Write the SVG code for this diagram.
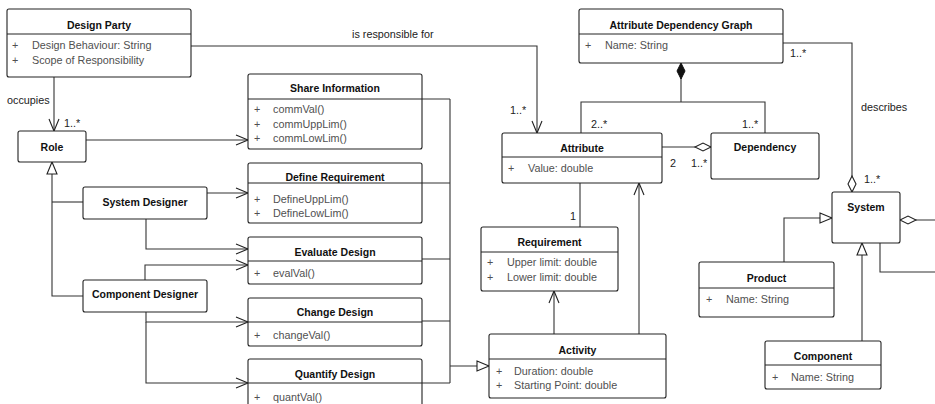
<svg xmlns="http://www.w3.org/2000/svg" width="935" height="404" viewBox="0 0 935 404">
<style>
text{font-family:"Liberation Sans",Arial,sans-serif;font-size:10.8px;fill:#222}
.t{font-weight:bold;font-size:10.5px;text-anchor:middle;fill:#111}
.a{fill:#505050}
.box{fill:#fff;stroke:#222;stroke-width:1.1}
.sep{stroke:#222;stroke-width:1}
.c{fill:none;stroke:#333;stroke-width:1.1}
</style>
<defs>
<marker id="arr" markerUnits="userSpaceOnUse" markerWidth="14" markerHeight="12" refX="12" refY="5" orient="auto" overflow="visible"><path d="M0,0 L12,5 L0,10" fill="none" stroke="#222" stroke-width="1.1"/></marker>
<marker id="tri" markerUnits="userSpaceOnUse" markerWidth="14" markerHeight="12" refX="12" refY="5" orient="auto" overflow="visible"><path d="M0,0 L12,5 L0,10 z" fill="#fff" stroke="#222" stroke-width="1.1"/></marker>
<marker id="dia" markerUnits="userSpaceOnUse" markerWidth="18" markerHeight="10" refX="16" refY="4" orient="auto" overflow="visible"><path d="M0,4 L8,0 L16,4 L8,8 z" fill="#fff" stroke="#222" stroke-width="1.1"/></marker>
<marker id="fdia" markerUnits="userSpaceOnUse" markerWidth="18" markerHeight="10" refX="16" refY="4" orient="auto" overflow="visible"><path d="M0,4 L8,0 L16,4 L8,8 z" fill="#111" stroke="#111" stroke-width="1"/></marker>
</defs>
<rect width="935" height="404" fill="#fff"/>
<g id="connectors">
<path class="c" d="M191,46 H537 V133" marker-end="url(#arr)"/>
<path class="c" d="M54,77 V131" marker-end="url(#arr)"/>
<path class="c" d="M86,140 H248" marker-end="url(#arr)"/>
<path class="c" d="M207,193 H248" marker-end="url(#arr)"/>
<path class="c" d="M146,219 V249 H248" marker-end="url(#arr)"/>
<path class="c" d="M145,280 V265 H248" marker-end="url(#arr)"/>
<path class="c" d="M146,312 V322 H248" marker-end="url(#arr)"/>
<path class="c" d="M146,322 V383 H248" marker-end="url(#arr)"/>
<path class="c" d="M83,202 H52"/>
<path class="c" d="M83,296 H52 V162" marker-end="url(#tri)"/>
<path class="c" d="M422,99 H450 M422,183 H450 M422,259 H450 M422,321 H450 M422,383 H450 M450,99 V383"/>
<path class="c" d="M450,366 H489" marker-end="url(#tri)"/>
<path class="c" d="M681,102 V63" marker-end="url(#fdia)"/>
<path class="c" d="M581,133 V102 H765 V133"/>
<path class="c" d="M662,147 H711" marker-end="url(#dia)"/>
<path class="c" d="M580,183 V227"/>
<path class="c" d="M554,334 V291" marker-end="url(#arr)"/>
<path class="c" d="M639,334 V183" marker-end="url(#arr)"/>
<path class="c" d="M783,43 H852 V192" marker-end="url(#dia)"/>
<path class="c" d="M936,220 H900" marker-end="url(#dia)"/>
<path class="c" d="M880,243 V272 H936"/>
<path class="c" d="M784,262 V218 H832" marker-end="url(#tri)"/>
<path class="c" d="M862,341 V243" marker-end="url(#tri)"/>
<text x="352" y="38">is responsible for</text>
<text x="7" y="104">occupies</text>
<text x="64" y="127">1..*</text>
<text x="510" y="114">1..*</text>
<text x="591" y="128">2..*</text>
<text x="742" y="128">1..*</text>
<text x="670" y="167">2</text>
<text x="691" y="167">1..*</text>
<text x="570" y="220">1</text>
<text x="790" y="57">1..*</text>
<text x="861" y="111">describes</text>
<text x="864" y="183">1..*</text>
</g>
<g id="design-party">
<rect class="box" x="7" y="9" width="184" height="68" rx="2"/>
<line class="sep" x1="7" y1="34" x2="191" y2="34"/>
<text class="t" x="99" y="29">Design Party</text>
<text class="a" x="12" y="49">+</text><text class="a" x="32" y="49">Design Behaviour: String</text>
<text class="a" x="12" y="64">+</text><text class="a" x="32" y="64">Scope of Responsibility</text>
</g>
<g id="role">
<rect class="box" x="18" y="131" width="68" height="31" rx="2"/>
<text class="t" x="52" y="151">Role</text>
</g>
<g id="system-designer">
<rect class="box" x="83" y="187" width="124" height="32" rx="2"/>
<text class="t" x="145" y="206">System Designer</text>
</g>
<g id="component-designer">
<rect class="box" x="83" y="280" width="124" height="32" rx="2"/>
<text class="t" x="145" y="298">Component Designer</text>
</g>
<g id="share-information">
<rect class="box" x="248" y="74" width="174" height="75" rx="2"/>
<line class="sep" x1="248" y1="99" x2="422" y2="99"/>
<text class="t" x="335" y="92">Share Information</text>
<text class="a" x="254" y="113">+</text><text class="a" x="273" y="113">commVal()</text>
<text class="a" x="254" y="128">+</text><text class="a" x="273" y="128">commUppLim()</text>
<text class="a" x="254" y="142">+</text><text class="a" x="273" y="142">commLowLim()</text>
</g>
<g id="define-requirement">
<rect class="box" x="248" y="163" width="174" height="60" rx="2"/>
<line class="sep" x1="248" y1="183" x2="422" y2="183"/>
<text class="t" x="335" y="181">Define Requirement</text>
<text class="a" x="254" y="203">+</text><text class="a" x="273" y="203">DefineUppLim()</text>
<text class="a" x="254" y="217">+</text><text class="a" x="273" y="217">DefineLowLim()</text>
</g>
<g id="evaluate-design">
<rect class="box" x="248" y="237" width="174" height="47" rx="2"/>
<line class="sep" x1="248" y1="261" x2="422" y2="261"/>
<text class="t" x="335" y="256">Evaluate Design</text>
<text class="a" x="254" y="277">+</text><text class="a" x="273" y="277">evalVal()</text>
</g>
<g id="change-design">
<rect class="box" x="248" y="298" width="174" height="48" rx="2"/>
<line class="sep" x1="248" y1="322" x2="422" y2="322"/>
<text class="t" x="335" y="316">Change Design</text>
<text class="a" x="254" y="339">+</text><text class="a" x="273" y="339">changeVal()</text>
</g>
<g id="quantify-design">
<rect class="box" x="248" y="359" width="174" height="60" rx="2"/>
<line class="sep" x1="248" y1="383" x2="422" y2="383"/>
<text class="t" x="335" y="378">Quantify Design</text>
<text class="a" x="254" y="401">+</text><text class="a" x="273" y="401">quantVal()</text>
</g>
<g id="attribute">
<rect class="box" x="502" y="133" width="160" height="50" rx="2"/>
<line class="sep" x1="502" y1="157" x2="662" y2="157"/>
<text class="t" x="582" y="152">Attribute</text>
<text class="a" x="508" y="172">+</text><text class="a" x="528" y="172">Value: double</text>
</g>
<g id="attribute-dependency-graph">
<rect class="box" x="579" y="9" width="204" height="54" rx="2"/>
<line class="sep" x1="579" y1="34" x2="783" y2="34"/>
<text class="t" x="681" y="29">Attribute Dependency Graph</text>
<text class="a" x="585" y="49">+</text><text class="a" x="605" y="49">Name: String</text>
</g>
<g id="dependency">
<rect class="box" x="711" y="133" width="108" height="46" rx="2"/>
<text class="t" x="765" y="151">Dependency</text>
</g>
<g id="requirement">
<rect class="box" x="481" y="227" width="137" height="64" rx="2"/>
<line class="sep" x1="481" y1="252" x2="618" y2="252"/>
<text class="t" x="549.5" y="246">Requirement</text>
<text class="a" x="487" y="266">+</text><text class="a" x="507" y="266">Upper limit: double</text>
<text class="a" x="487" y="281">+</text><text class="a" x="507" y="281">Lower limit: double</text>
</g>
<g id="activity">
<rect class="box" x="489" y="334" width="177" height="64" rx="2"/>
<line class="sep" x1="489" y1="359" x2="666" y2="359"/>
<text class="t" x="577.5" y="354">Activity</text>
<text class="a" x="496" y="375">+</text><text class="a" x="514" y="375">Duration: double</text>
<text class="a" x="496" y="389">+</text><text class="a" x="514" y="389">Starting Point: double</text>
</g>
<g id="system">
<rect class="box" x="832" y="192" width="68" height="51" rx="2"/>
<text class="t" x="866" y="211">System</text>
</g>
<g id="product">
<rect class="box" x="699" y="262" width="135" height="55" rx="2"/>
<line class="sep" x1="699" y1="288" x2="834" y2="288"/>
<text class="t" x="766.5" y="282">Product</text>
<text class="a" x="706" y="303">+</text><text class="a" x="726" y="303">Name: String</text>
</g>
<g id="component">
<rect class="box" x="765" y="341" width="116" height="48" rx="2"/>
<line class="sep" x1="765" y1="365" x2="881" y2="365"/>
<text class="t" x="823" y="360">Component</text>
<text class="a" x="772" y="381">+</text><text class="a" x="791" y="381">Name: String</text>
</g>
</svg>
